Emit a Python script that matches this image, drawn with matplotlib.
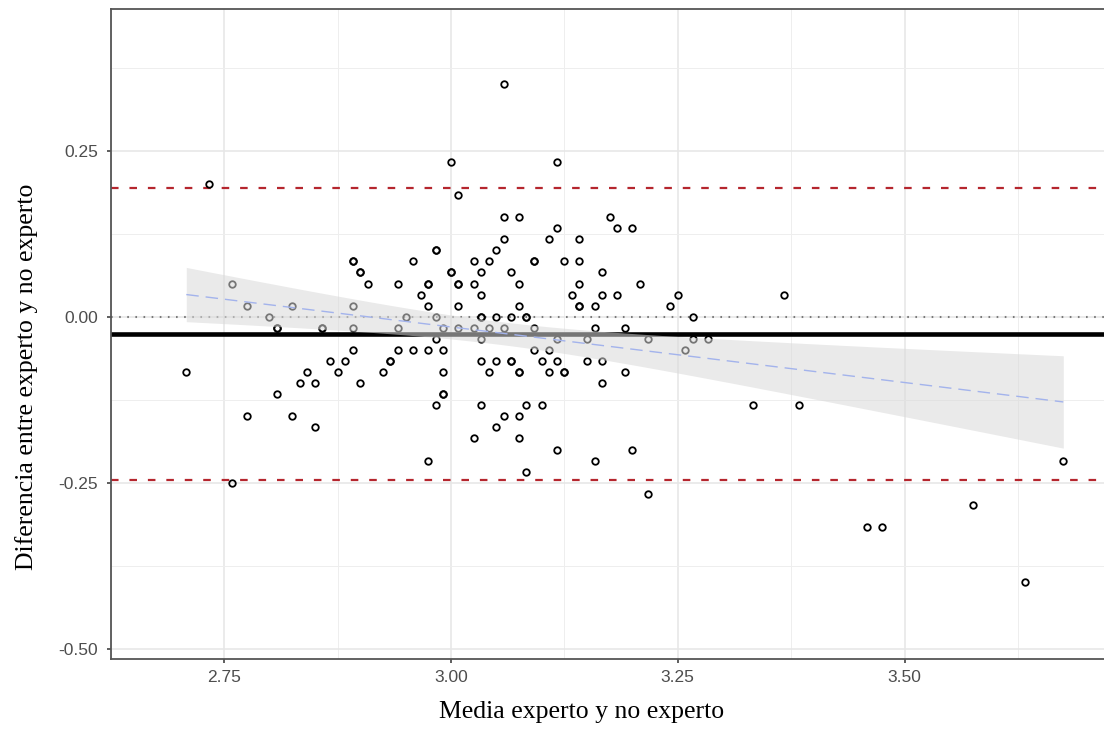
import numpy as np
import matplotlib.pyplot as plt

# media de las dos valoraciones (experto y no experto) y su diferencia
media = [
    2.7083, 2.7333, 2.7583, 2.7583, 2.775, 2.775, 2.8, 2.8083, 2.8083, 2.8083,
    2.825, 2.825, 2.8333, 2.8417, 2.85, 2.85, 2.8583, 2.8583, 2.8667, 2.875,
    2.8833, 2.8917, 2.8917, 2.8917, 2.8917, 2.8917, 2.9, 2.9, 2.9, 2.9083,
    2.925, 2.9333, 2.9333, 2.9417, 2.9417, 2.9417, 2.95, 2.9583, 2.9583, 2.9667,
    2.975, 2.975, 2.975, 2.975, 2.975, 2.9833, 2.9833, 2.9833, 2.9833, 2.9833,
    2.9917, 2.9917, 2.9917, 2.9917, 2.9917, 3.0, 3.0, 3.0, 3.0083, 3.0083,
    3.0083, 3.0083, 3.0083, 3.025, 3.025, 3.025, 3.025, 3.0333, 3.0333, 3.0333,
    3.0333, 3.0333, 3.0333, 3.0333, 3.0417, 3.0417, 3.0417, 3.05, 3.05, 3.05,
    3.05, 3.0583, 3.0583, 3.0583, 3.0583, 3.0583, 3.0667, 3.0667, 3.0667, 3.0667,
    3.075, 3.075, 3.075, 3.075, 3.075, 3.075, 3.075, 3.0833, 3.0833, 3.0833,
    3.0833, 3.0917, 3.0917, 3.0917, 3.0917, 3.1, 3.1, 3.1083, 3.1083, 3.1083,
    3.1167, 3.1167, 3.1167, 3.1167, 3.1167, 3.125, 3.125, 3.125, 3.1333, 3.1417,
    3.1417, 3.1417, 3.1417, 3.1417, 3.15, 3.15, 3.1583, 3.1583, 3.1583, 3.1667,
    3.1667, 3.1667, 3.1667, 3.175, 3.1833, 3.1833, 3.1917, 3.1917, 3.2, 3.2,
    3.2083, 3.2167, 3.2167, 3.2417, 3.25, 3.2583, 3.2667, 3.2667, 3.2833, 3.3333,
    3.3667, 3.3833, 3.4583, 3.475, 3.575, 3.6333, 3.675,
]
diferencia = [
    -0.0833, 0.2, 0.05, -0.25, 0.0167, -0.15, 0.0, -0.0167, -0.0167, -0.1167,
    0.0167, -0.15, -0.1, -0.0833, -0.1, -0.1667, -0.0167, -0.0167, -0.0667, -0.0833,
    -0.0667, 0.0833, 0.0833, 0.0167, -0.0167, -0.05, 0.0667, 0.0667, -0.1, 0.05,
    -0.0833, -0.0667, -0.0667, 0.05, -0.0167, -0.05, 0.0, 0.0833, -0.05, 0.0333,
    0.05, 0.05, 0.0167, -0.05, -0.2167, 0.1, 0.1, 0.0, -0.0333, -0.1333,
    -0.0167, -0.05, -0.0833, -0.1167, -0.1167, 0.2333, 0.0667, 0.0667, 0.1833, 0.05,
    0.0167, -0.0167, 0.05, 0.0833, 0.05, -0.0167, -0.1833, 0.0667, 0.0333, 0.0,
    0.0, -0.0333, -0.0667, -0.1333, 0.0833, -0.0167, -0.0833, 0.1, 0.0, -0.0667,
    -0.1667, 0.35, 0.15, 0.1167, -0.0167, -0.15, 0.0667, 0.0, -0.0667, -0.0667,
    0.15, 0.05, 0.0167, -0.0833, -0.15, -0.1833, -0.0833, 0.0, 0.0, -0.1333,
    -0.2333, 0.0833, -0.0167, -0.05, 0.0833, -0.0667, -0.1333, 0.1167, -0.05, -0.0833,
    0.2333, 0.1333, -0.0333, -0.0667, -0.2, 0.0833, -0.0833, -0.0833, 0.0333, 0.1167,
    0.0833, 0.05, 0.0167, 0.0167, -0.0333, -0.0667, 0.0167, -0.0167, -0.2167, 0.0667,
    0.0333, -0.0667, -0.1, 0.15, 0.1333, 0.0333, -0.0167, -0.0833, 0.1333, -0.2,
    0.05, -0.0333, -0.2667, 0.0167, 0.0333, -0.05, 0.0, -0.0333, -0.0333, -0.1333,
    0.0333, -0.1333, -0.3167, -0.3167, -0.2833, -0.4, -0.2167,
]

# sesgo medio y limites de acuerdo
sesgo = -0.026
lim_sup = 0.1935
lim_inf = -0.246

x = np.array(media)
y = np.array(diferencia)

# recta de regresion con su banda de confianza del 95 %
n = len(x)
b, a = np.polyfit(x, y, 1)
res = y - (a + b * x)
s = np.sqrt(np.sum(res ** 2) / (n - 2))
sxx = np.sum((x - x.mean()) ** 2)
xs = np.linspace(x.min(), x.max(), 100)
ys = a + b * xs
se = s * np.sqrt(1 / n + (xs - x.mean()) ** 2 / sxx)
t = 1.977

fig = plt.figure(figsize=(11.04, 7.33), dpi=100)
ax = fig.add_axes([0.1003, 0.1005, 0.9025, 0.8868])

ax.plot(x, y, 'o', ms=4.7, mfc='none', mec='black', mew=1.3, zorder=2)
ax.fill_between(xs, ys - t * se, ys + t * se, color='#d9d9d9', alpha=0.55,
                lw=0, zorder=3)
ax.plot(xs, ys, color='#a3b3ec', lw=1.0, dashes=(9, 5), zorder=4)

ax.axhline(0, color='#7a7a7a', lw=1.5, ls=(0, (0.8, 3.1)), zorder=1.5)
ax.axhline(sesgo, color='black', lw=3.3, zorder=1.6)
ax.axhline(lim_sup, color='#b5262e', lw=1.6, ls=(0, (3.4, 4.9)), zorder=1.6)
ax.axhline(lim_inf, color='#b5262e', lw=1.6, ls=(0, (3.4, 4.9)), zorder=1.6)

ax.set_xlim(2.6589, 3.7233)
ax.set_ylim(-0.516, 0.463)
ax.set_xticks([2.75, 3.00, 3.25, 3.50])
ax.set_xticklabels(['2.75', '3.00', '3.25', '3.50'])
ax.set_yticks([-0.50, -0.25, 0.00, 0.25])
ax.set_yticklabels(['-0.50', '-0.25', '0.00', '0.25'])
ax.set_xticks([2.625, 2.875, 3.125, 3.375, 3.625], minor=True)
ax.set_yticks([-0.375, -0.125, 0.125, 0.375], minor=True)

ax.grid(which='major', color='#e6e6e6', lw=1.1, zorder=0)
ax.grid(which='minor', color='#eeeeee', lw=0.7, zorder=0)
ax.set_axisbelow(True)

for sp in ax.spines.values():
    sp.set_color('#555555')
    sp.set_linewidth(1.3)

ax.tick_params(which='major', length=3.2, width=1.1, color='#333333',
               labelcolor='#4d4d4d', labelsize=12.5)
ax.tick_params(axis='x', pad=4.5)
ax.tick_params(axis='y', pad=6)
ax.tick_params(which='minor', length=0)
for lab in ax.get_xticklabels() + ax.get_yticklabels():
    lab.set_family('Liberation Sans')

fig.text(582 / 1104, 1 - 712 / 733, 'Media experto y no experto',
         family='Liberation Serif', fontsize=18.5, ha='center', va='center')
fig.text(27 / 1104, 1 - 377 / 733, 'Diferencia entre experto y no experto',
         family='Liberation Serif', fontsize=18.5, ha='center', va='center',
         rotation=90)

fig.savefig('out.png', dpi=100)
